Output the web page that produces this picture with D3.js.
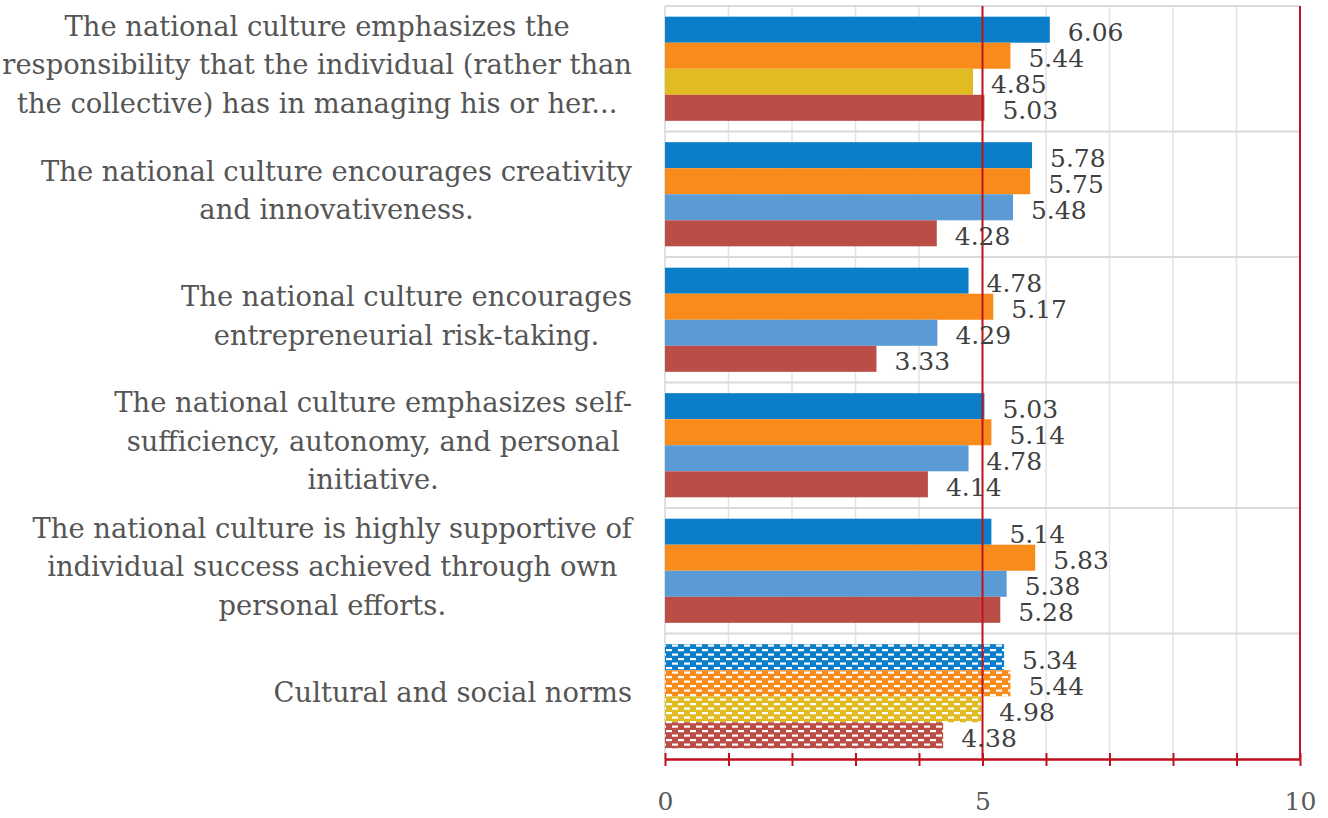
<!DOCTYPE html>
<html>
<head>
<meta charset="utf-8">
<script src="https://cdn.jsdelivr.net/npm/d3@7"></script>
<style>
  html, body { margin: 0; padding: 0; background: #ffffff; }
  svg { display: block; }
</style>
</head>
<body>
<svg id="chart" width="1328" height="818"></svg>
<script>
// ---------- data ----------
const categories = [
  "The national culture emphasizes the responsibility that the individual (rather than the collective) has in managing his or her...",
  "The national culture encourages creativity and innovativeness.",
  "The national culture encourages entrepreneurial risk-taking.",
  "The national culture emphasizes self-sufficiency, autonomy, and personal initiative.",
  "The national culture is highly supportive of individual success achieved through own personal efforts.",
  "Cultural and social norms"
];
const categoryLines = [
  ["The national culture emphasizes the", "responsibility that the individual (rather than", "the collective) has in managing his or her..."],
  ["The national culture encourages creativity", "and innovativeness."],
  ["The national culture encourages", "entrepreneurial risk-taking."],
  ["The national culture emphasizes self-", "sufficiency, autonomy, and personal", "initiative."],
  ["The national culture is highly supportive of", "individual success achieved through own", "personal efforts."],
  ["Cultural and social norms"]
];
const series1 = [6.06, 5.78, 4.78, 5.03, 5.14, 5.34];
const series2 = [5.44, 5.75, 5.17, 5.14, 5.83, 5.44];
const series3 = [4.85, 5.48, 4.29, 4.78, 5.38, 4.98];
const series4 = [5.03, 4.28, 3.33, 4.14, 5.28, 4.38];
const tickValues = [0, 1, 2, 3, 4, 5, 6, 7, 8, 9, 10];
const tickLabels = ["0", "", "", "", "", "5", "", "", "", "", "10"];

// ---------- styles ----------
const blue = "#0a7ec8", orange = "#f98b1b", yellow = "#e0bc22", lightBlue = "#5b9bd5", red = "#bb4d47";
const seriesColors = [
  [blue, blue, blue, blue, blue, blue],
  [orange, orange, orange, orange, orange, orange],
  [yellow, lightBlue, lightBlue, lightBlue, lightBlue, yellow],
  [red, red, red, red, red, red]
];
const patternedCategory = 5;
const series = [series1, series2, series3, series4];

const svg = d3.select("#chart");
const margin = { left: 665, right: 28, top: 6, bottom: 59 };
const W = 1328, H = 818;
const x = d3.scaleLinear().domain([0, 10]).range([margin.left, W - margin.right]);
const y = d3.scaleBand().domain(d3.range(categories.length)).range([margin.top, H - margin.bottom]).paddingInner(0).paddingOuter(0);
const sub = d3.scaleBand().domain(d3.range(series.length)).range([0, y.bandwidth()]).paddingOuter(0.41).paddingInner(0);

// patterns
const defs = svg.append("defs");
const uniqueColors = [blue, orange, yellow, red, lightBlue];
uniqueColors.forEach((c, i) => {
  const p = defs.append("pattern").attr("id", "pat" + i).attr("patternUnits", "userSpaceOnUse")
    .attr("width", 12).attr("height", 9).attr("x", margin.left).attr("y", 0);
  p.append("rect").attr("width", 12).attr("height", 9).attr("fill", c);
  p.append("rect").attr("x", 1).attr("y", 1).attr("width", 6).attr("height", 2.2).attr("fill", "#fff");
  p.append("rect").attr("x", 7).attr("y", 5.5).attr("width", 6).attr("height", 2.2).attr("fill", "#fff");
  p.append("rect").attr("x", -5).attr("y", 5.5).attr("width", 6).attr("height", 2.2).attr("fill", "#fff");
});
const fillFor = (c, ci) => ci === patternedCategory ? "url(#pat" + uniqueColors.indexOf(c) + ")" : c;

// gridlines (vertical)
const y0 = margin.top, y1 = H - margin.bottom;
svg.append("g").selectAll("line").data(tickValues.slice(1, -1)).join("line")
  .attr("x1", d => x(d)).attr("x2", d => x(d)).attr("y1", y0).attr("y2", y1)
  .attr("stroke", "#e3e3e3").attr("stroke-width", 1.5);
// horizontal separators
svg.append("g").selectAll("line").data(d3.range(categories.length)).join("line")
  .attr("x1", x(0)).attr("x2", x(10)).attr("y1", d => y(d)).attr("y2", d => y(d))
  .attr("stroke", "#dadada").attr("stroke-width", 2);
// left border
svg.append("line").attr("x1", x(0)).attr("x2", x(0)).attr("y1", y0).attr("y2", y1)
  .attr("stroke", "#d6d6d6").attr("stroke-width", 1.5);

// bars
series.forEach((s, si) => {
  svg.append("g").selectAll("rect").data(s).join("rect")
    .attr("x", x(0))
    .attr("y", (d, ci) => y(ci) + sub(si))
    .attr("width", d => x(d) - x(0))
    .attr("height", sub.bandwidth())
    .attr("fill", (d, ci) => fillFor(seriesColors[si][ci], ci));
});

// red reference lines at 5 and 10
svg.append("g").selectAll("line").data([5, 10]).join("line")
  .attr("x1", d => x(d)).attr("x2", d => x(d)).attr("y1", y0).attr("y2", y1)
  .attr("stroke", "#c0121c").attr("stroke-width", 2);

// value labels
series.forEach((s, si) => {
  svg.append("g").selectAll("text").data(s).join("text")
    .attr("x", d => x(d) + 18)
    .attr("y", (d, ci) => y(ci) + sub(si) + sub.bandwidth() / 2 + 3)
    .attr("dominant-baseline", "central")
    .attr("font-family", "DejaVu Serif")
    .attr("font-size", 25)
    .attr("fill", "#404040")
    .text(d => d.toFixed(2));
});

// x axis
const axis = d3.axisBottom(x).tickValues(tickValues).tickSize(0).tickFormat((d, i) => tickLabels[i]);
const ag = svg.append("g").attr("transform", `translate(0,${y1})`).call(axis);
ag.select(".domain").attr("stroke", "#c0121c").attr("stroke-width", 2.5);
ag.selectAll(".tick text").attr("font-family", "DejaVu Serif").attr("font-size", 25)
  .attr("fill", "#595959").attr("dy", 0).attr("y", 51);
ag.selectAll(".tick").append("line").attr("y1", -6).attr("y2", 7)
  .attr("stroke", "#c0121c").attr("stroke-width", 2);

// category labels: lines centered within a block right-aligned to x=632
const labelRight = 632, lineH = 38.5, maxLabelWidth = 630;
const lg = svg.append("g")
  .attr("font-family", "DejaVu Serif")
  .attr("fill", "#555555")
  .attr("font-size", 28);
const groups = categoryLines.map((lines, ci) => {
  const g = lg.append("g");
  const cy = y(ci) + y.bandwidth() / 2 - 4;
  return g.selectAll("text").data(lines).join("text")
    .attr("y", (d, i) => cy + (i - (lines.length - 1) / 2) * lineH)
    .attr("dominant-baseline", "central")
    .attr("text-anchor", "middle")
    .text(d => d);
});
// fit font size so the widest line fills the label column
let widest = 0;
lg.selectAll("text").each(function () { widest = Math.max(widest, this.getComputedTextLength()); });
const fs = Math.min(28, 28 * maxLabelWidth / widest);
lg.attr("font-size", fs);
groups.forEach(texts => {
  let maxW = 0;
  texts.each(function () { maxW = Math.max(maxW, this.getComputedTextLength()); });
  texts.attr("x", labelRight - maxW / 2);
});
</script>
</body>
</html>
